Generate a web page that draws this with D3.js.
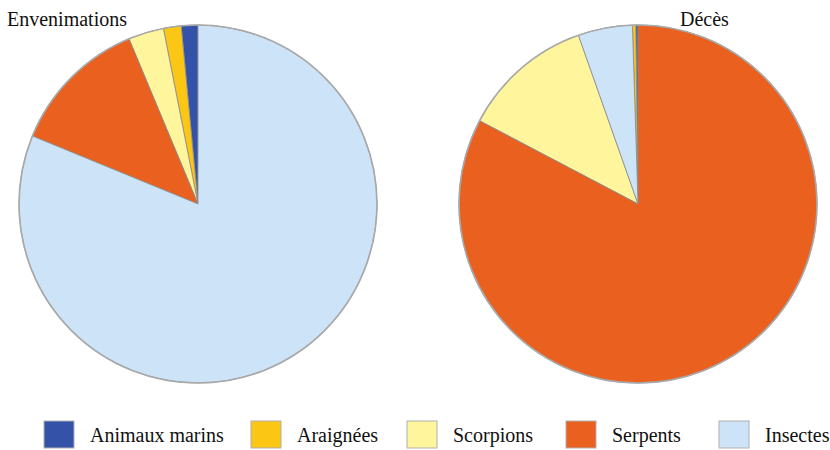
<!DOCTYPE html>
<html>
<head>
<meta charset="utf-8">
<script src="https://cdn.jsdelivr.net/npm/d3@7"></script>
<style>
  body { margin: 0; background: #fff; }
</style>
</head>
<body>
<svg id="chart" width="830" height="450"></svg>
<script>
// catégories et valeurs (%)
const categories = ["Animaux marins", "Araignées", "Scorpions", "Serpents", "Insectes"];
const envenimations = [1.5, 1.6, 3.2, 12.5, 81.2];
const deces = [0.2, 0.3, 11.9, 82.7, 4.9];
const titles = ["Envenimations", "Décès"];

const colors = ["#3352a8", "#fcc614", "#fff59c", "#e9601f", "#cde3f8"];
const serif = "\"Liberation Serif\"";

function toData(values) {
    return categories.map((c, i) => ({ cat: c, value: values[i] }));
}

function drawPie(g, data, radius) {
    const color = d3.scaleOrdinal().domain(categories).range(colors);

    // tri décroissant par défaut de d3.pie
    const pie = d3.pie().value(d => d.value);
    const arc = d3.arc().innerRadius(0).outerRadius(radius);

    g.selectAll(".slice")
        .data(pie(data))
        .enter().append("path")
        .attr("class", "slice")
        .attr("d", arc)
        .attr("fill", d => color(d.data.cat))
        .attr("stroke", "#8a8a8a")
        .attr("stroke-width", 0.8);

    // contour gris du disque
    g.append("circle")
        .attr("r", radius)
        .attr("fill", "none")
        .attr("stroke", "#a9a9a9")
        .attr("stroke-width", 1.6);
}

const svg = d3.select("#chart");

const radius = 179;
const left = svg.append("g").attr("transform", "translate(198,204)");
const right = svg.append("g").attr("transform", "translate(638,204)");
drawPie(left, toData(envenimations), radius);
drawPie(right, toData(deces), radius);

svg.append("text").attr("x", 7).attr("y", 26)
    .style("font-family", serif).style("font-size", "20px").style("fill", "#111")
    .text(titles[0]);
svg.append("text").attr("x", 680).attr("y", 26)
    .style("font-family", serif).style("font-size", "20px").style("fill", "#111")
    .text(titles[1]);

// légende
const legendX = [44, 251, 407, 566, 719];
const legend = svg.append("g");
categories.forEach((c, i) => {
    legend.append("rect")
        .attr("x", legendX[i])
        .attr("y", 421)
        .attr("width", 30)
        .attr("height", 27)
        .attr("fill", colors[i])
        .attr("stroke", "#b0b0b0")
        .attr("stroke-width", 1);
    legend.append("text")
        .attr("x", legendX[i] + 46)
        .attr("y", 442)
        .style("font-family", serif)
        .style("font-size", "20px")
        .style("fill", "#111")
        .text(c);
});
</script>
</body>
</html>
